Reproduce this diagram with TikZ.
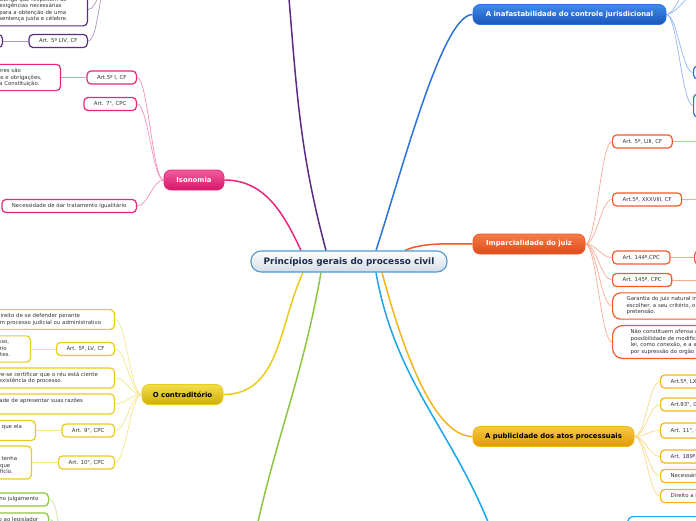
\documentclass[tikz,border=0pt]{standalone}
\usepackage{fontspec}
\setmainfont{DejaVu Sans}
\usetikzlibrary{positioning, backgrounds}

\definecolor{rootline}{HTML}{4A9AD6}
\definecolor{rootfill}{HTML}{D3DCE6}
\definecolor{roottext}{HTML}{1C2B4F}
\definecolor{leaftext}{HTML}{333333}
\definecolor{purpline}{HTML}{5B2C83}
\definecolor{isoline}{HTML}{E8267C}
\definecolor{isotop}{HTML}{F35B9C}
\definecolor{isobot}{HTML}{D4176A}
\definecolor{conline}{HTML}{EBCB17}
\definecolor{contop}{HTML}{F3DE4C}
\definecolor{conbot}{HTML}{CFAE06}
\definecolor{verline}{HTML}{8DC63F}
\definecolor{infline}{HTML}{2A72DC}
\definecolor{inftop}{HTML}{3F8AEA}
\definecolor{infbot}{HTML}{1B55BA}
\definecolor{impline}{HTML}{F05A28}
\definecolor{imptop}{HTML}{F67C48}
\definecolor{impbot}{HTML}{DE4A1B}
\definecolor{publine}{HTML}{F4B41A}
\definecolor{pubtop}{HTML}{F9C844}
\definecolor{pubbot}{HTML}{E29A00}
\definecolor{cialine}{HTML}{1CA5E8}

\begin{document}
\begin{tikzpicture}[
        x=1pt, y=-1pt,
        root/.style={rectangle, rounded corners=10pt, draw=rootline, line width=1.1pt, top color=white, bottom color=rootfill, text=roottext, font=\fontsize{8.9pt}{10pt}\selectfont\bfseries, minimum width=196pt, minimum height=21pt, inner sep=0pt},
        topic/.style={rectangle, rounded corners=7pt, draw=#1line, line width=0.8pt, top color=#1top, bottom color=#1bot, text=white, font=\fontsize{6.9pt}{8pt}\selectfont\bfseries, minimum height=20pt, inner sep=0pt},
        leaf/.style={rectangle, rounded corners=4pt, draw=#1line, line width=1.2pt, fill=white, text=leaftext, font=\fontsize{5.4pt}{6.5pt}\selectfont, minimum height=13pt, inner xsep=10pt, inner ysep=2pt},
        note/.style={leaf=#1, align=left, inner ysep=4pt},
        branch/.style={draw=#1line, line width=1.5pt},
        twig/.style={draw=#1line!50!white, line width=0.7pt},
        toleft/.style={out=180, in=0, distance=11pt},
        toright/.style={out=0, in=180, distance=11pt}
    ]
    \useasboundingbox (0,0) rectangle (696,520);
    \clip (0,0) rectangle (696,520);

    % Centre and main topics
    \node[root] (root) at (349,261.5) {Princípios gerais do processo civil};
    \node[topic=iso, minimum width=60pt] (iso) at (194,180) {Isonomia};
    \node[topic=con, text=black, minimum width=81pt] (con) at (182.5,394.5) {O contraditório};
    \node[topic=inf, minimum width=193pt] (inf) at (569.5,14.5) {A inafastabilidade do controle jurisdicional};
    \node[topic=imp, minimum width=112pt] (imp) at (529,244) {Imparcialidade do juiz};
    \node[topic=pub, text=black, minimum width=161pt] (pub) at (553.5,436.5) {A publicidade dos atos processuais};

    % Free ends outside the frame
    \coordinate (devido-e) at (287,-25);
    \coordinate (devido-w) at (110,-22);
    \coordinate (verdade) at (254,540);
    \coordinate (verdade-w) at (68,548);
    \coordinate (ciano) at (495,540);
    \coordinate (inf-up) at (702,-12);
    \coordinate (inf-up2) at (702,-35);
    \coordinate (liii-r) at (720,141.5);
    \coordinate (xxxviii-r) at (720,199.5);
    \coordinate (art145-r) at (720,280);

    % Devido processo
    \node[note=purp, text width=78pt, anchor=east] (obriga) at (88,9.5) {Obriga que respeitem as\\exigências necessárias\\para a obtenção de uma\\sentença justa e célebre.};
    \node[leaf=purp, anchor=east] (liv) at (88,41) {Art. 5º LIV, CF};
    \node[leaf=purp, anchor=east, minimum width=50pt] (livtxt) at (3,41) {};

    % Isonomia
    \node[leaf=iso, anchor=east] (art5i) at (137,77.5) {Art.5º I, CF};
    \node[leaf=iso, anchor=east] (art7) at (137,104) {Art. 7°, CPC};
    \node[leaf=iso, anchor=east] (trat) at (137,206) {Necessidade de dar tratamento igualitário};
    \node[note=iso, text width=95pt, anchor=east] (iguais) at (61,77.5) {Homens e mulheres são\\iguais em direitos e obrigações,\\nos termos desta Constituição.};

    % O contraditorio
    \node[note=con, text width=108pt, anchor=east] (defesa) at (115,319.5) {Direito de se defender perante\\um processo judicial ou administrativo};
    \node[leaf=con, anchor=east] (art5lv) at (115,349) {Art. 5º, LV, CF};
    \node[note=con, text width=81pt, anchor=east] (litig) at (31,349) {Assegurado em processo,\\o direito ao contraditório\\a todos os seus litigantes.};
    \node[note=con, text width=114pt, anchor=east] (ciente) at (115,378) {Deve-se certificar que o réu está ciente\\da existência do processo.};
    \node[note=con, text width=132pt, anchor=east] (razoes) at (115,404) {Oportunidade de apresentar suas razões\\ao juiz.};
    \node[leaf=con, anchor=east] (art9) at (115,430.5) {Art. 9°, CPC};
    \node[note=con, text width=168pt, anchor=east] (ouvida) at (36,430.5) {Não se proferirá decisão contra uma das partes sem que ela\\seja previamente ouvida.};
    \node[leaf=con, anchor=east] (art10) at (115,462.5) {Art. 10°, CPC};
    \node[note=con, text width=120pt, anchor=east] (oficio) at (32,462.5) {O juiz não pode decidir com base\\em fundamento sobre o qual não se tenha\\dado às partes oportunidade, ainda que\\mesmo em matéria que decida de ofício.};

    % Verdade
    \node[leaf=ver, anchor=east] (julg) at (49,499.5) {Imparcialidade no julgamento};
    \node[leaf=ver, anchor=east] (legis) at (49,519.5) {Vedação ao legislador};

    % Inafastabilidade
    \node[leaf=inf, anchor=west, minimum width=50pt] (infa) at (693,72.5) {};
    \node[leaf=inf, anchor=west, minimum width=50pt, minimum height=23pt] (infb) at (693,105.5) {};

    % Imparcialidade
    \node[leaf=imp, anchor=west] (liii) at (612,141.5) {Art. 5º, LIII, CF};
    \node[leaf=imp, anchor=west] (xxxviii) at (612,199.5) {Art.5º, XXXVIII, CF};
    \node[leaf=imp, anchor=west] (art144) at (612,257.5) {Art. 144º,CPC};
    \node[leaf=imp, anchor=west] (art145) at (612,280) {Art. 145º, CPC};
    \node[note=imp, text width=150pt, anchor=west, inner xsep=14pt, rounded corners=8pt] (natural) at (612,306) {Garantia do juiz natural impede que a parte possa\\escolher, a seu critério, o juiz que julgará a sua\\pretensão.};
    \node[note=imp, text width=160pt, anchor=west, inner xsep=18pt, rounded corners=10pt] (ofensa) at (612,342) {Não constituem ofensa ao princípio do juiz natural a\\possibilidade de modificação da competência pela\\lei, como conexão, e a alteração da competência\\por supressão do orgão jurisdicional.};
    \node[leaf=imp, anchor=west, minimum width=50pt] (art144b) at (694,257.5) {};

    % Publicidade
    \node[leaf=pub, anchor=west] (lx) at (660,381.5) {Art.5º, LX, CF};
    \node[leaf=pub, anchor=west] (art93) at (660,404.5) {Art.93°, IX, CF};
    \node[leaf=pub, anchor=west, minimum height=15pt] (art11) at (660,430.5) {Art. 11°, CPC};
    \node[leaf=pub, anchor=west] (art189) at (660,456.5) {Art. 189º, CPC};
    \node[leaf=pub, anchor=west] (controle) at (660,476) {Necessário para o controle social dos atos};
    \node[leaf=pub, anchor=west] (info) at (660,496) {Direito a informação};

    % Ciano
    \node[leaf=cia, anchor=north west, minimum width=100pt, minimum height=24pt, rounded corners=6pt] (ciab) at (627,516) {};

    \begin{scope}[on background layer]
    \clip (0,0) rectangle (696,520);
    \fill[white] (0,0) rectangle (696,520);

    % Main branches
    \draw[branch=purp] ([xshift=-23pt]root.north) to[out=105, in=-85] (devido-e);
    \draw[branch=iso] ([xshift=-48pt]root.north) to[out=115, in=0] (iso.east);
    \draw[branch=con] ([xshift=-46pt]root.south) to[out=-115, in=0] (con.east);
    \draw[branch=ver] ([xshift=-28pt]root.south) to[out=-100, in=78] (verdade);
    \draw[branch=inf] ([xshift=27pt]root.north) to[out=72, in=180, out distance=90pt, in distance=30pt] (inf.west);
    \draw[branch=imp] ([xshift=56pt]root.north) to[out=25, in=180, distance=20pt] (imp.west);
    \draw[branch=pub] ([xshift=33pt]root.south) to[out=-75, in=180, out distance=74pt, in distance=40pt] (pub.west);
    \draw[branch=cia] ([xshift=27pt]root.south) to[out=-80, in=110] (ciano);

    % Devido processo
    \draw[twig=purp, toleft] (devido-w) to (obriga.east);
    \draw[twig=purp, toleft] (devido-w) to (liv.east);
    \draw[twig=purp] (liv.west) -- (livtxt.east);

    % Isonomia
    \draw[twig=iso, toleft] (iso.west) to (art5i.east);
    \draw[twig=iso, toleft] (iso.west) to (art7.east);
    \draw[twig=iso, toleft] (iso.west) to (trat.east);
    \draw[twig=iso] (art5i.west) -- (iguais.east);

    % O contraditorio
    \draw[twig=con, toleft] (con.west) to (defesa.east);
    \draw[twig=con, toleft] (con.west) to (art5lv.east);
    \draw[twig=con, toleft] (con.west) to (ciente.east);
    \draw[twig=con, toleft] (con.west) to (razoes.east);
    \draw[twig=con, toleft] (con.west) to (art9.east);
    \draw[twig=con, toleft] (con.west) to (art10.east);
    \draw[twig=con] (art5lv.west) -- (litig.east);
    \draw[twig=con] (art9.west) -- (ouvida.east);
    \draw[twig=con] (art10.west) -- (oficio.east);

    % Verdade
    \draw[twig=ver, toleft] (verdade-w) to (julg.east);
    \draw[twig=ver, toleft] (verdade-w) to (legis.east);

    % Inafastabilidade
    \draw[twig=inf, toright] (inf.east) to (inf-up);
    \draw[twig=inf, toright] (inf.east) to (inf-up2);
    \draw[twig=inf, toright] (inf.east) to (infa.west);
    \draw[twig=inf, toright] (inf.east) to (infb.west);

    % Imparcialidade
    \draw[twig=imp, toright] (imp.east) to (liii.west);
    \draw[twig=imp, toright] (imp.east) to (xxxviii.west);
    \draw[twig=imp, toright] (imp.east) to (art144.west);
    \draw[twig=imp, toright] (imp.east) to (art145.west);
    \draw[twig=imp, toright] (imp.east) to (natural.west);
    \draw[twig=imp, toright] (imp.east) to (ofensa.west);
    \draw[twig=imp] (liii.east) -- (liii-r);
    \draw[twig=imp] (xxxviii.east) -- (xxxviii-r);
    \draw[twig=imp] (art144.east) -- (art144b.west);
    \draw[twig=imp] (art145.east) -- (art145-r);

    % Publicidade
    \draw[twig=pub, toright] (pub.east) to (lx.west);
    \draw[twig=pub, toright] (pub.east) to (art93.west);
    \draw[twig=pub, toright] (pub.east) to (art11.west);
    \draw[twig=pub, toright] (pub.east) to (art189.west);
    \draw[twig=pub, toright] (pub.east) to (controle.west);
    \draw[twig=pub, toright] (pub.east) to (info.west);
    \end{scope}
\end{tikzpicture}
\end{document}
